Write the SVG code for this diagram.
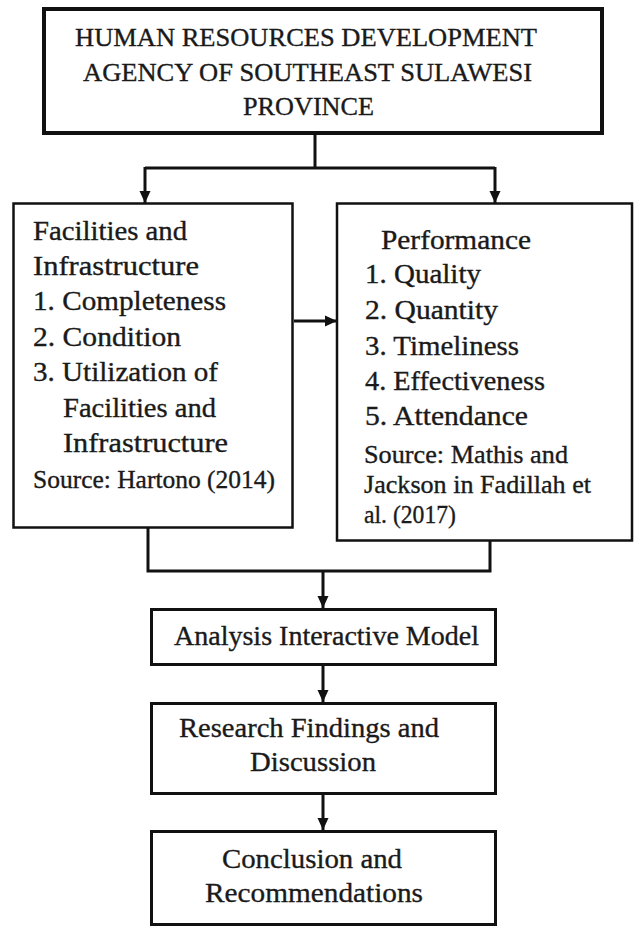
<svg xmlns="http://www.w3.org/2000/svg" width="637" height="933" viewBox="0 0 637 933">
<style>
  .box { fill: #ffffff; stroke: #111111; }
  .t { font-family: "Liberation Serif", "Times New Roman", serif; fill: #1a1a1a; stroke: #1a1a1a; stroke-width: 0.35px; }
  .t26 { font-size: 26px; }
  .t27 { font-size: 27px; }
  .t28 { font-size: 28px; }
  .conn { fill: none; stroke: #111111; stroke-width: 3; }
</style>
<defs>
  <marker id="arrow" markerUnits="userSpaceOnUse" viewBox="0 0 12 12" refX="12" refY="6" markerWidth="12" markerHeight="12" orient="auto">
    <path d="M0,0.5 L12,6 L0,11.5 z" fill="#111111"/>
  </marker>
</defs>
<rect width="637" height="933" fill="#ffffff"/>

<g id="connectors">
  <path class="conn" d="M315,135 V168"/>
  <path class="conn" d="M145,168 H495"/>
  <path class="conn" d="M145,167 V203" marker-end="url(#arrow)"/>
  <path class="conn" d="M495,167 V203" marker-end="url(#arrow)"/>
  <path class="conn" d="M294,321 H337" marker-end="url(#arrow)"/>
  <path class="conn" d="M148,528 V571 H490 V541"/>
  <path class="conn" d="M323,571 V608" marker-end="url(#arrow)"/>
  <path class="conn" d="M323,666 V702" marker-end="url(#arrow)"/>
  <path class="conn" d="M323,795 V830" marker-end="url(#arrow)"/>
</g>

<g id="node-agency">
  <rect class="box" x="44" y="9" width="558" height="124" stroke-width="4"/>
  <text class="t t26" x="75" y="46" textLength="462" lengthAdjust="spacingAndGlyphs">HUMAN RESOURCES DEVELOPMENT</text>
  <text class="t t26" x="83" y="81" textLength="449" lengthAdjust="spacingAndGlyphs">AGENCY OF SOUTHEAST SULAWESI</text>
  <text class="t t26" x="243" y="115" textLength="131" lengthAdjust="spacingAndGlyphs">PROVINCE</text>
</g>

<g id="node-facilities">
  <rect class="box" x="13.5" y="203.5" width="279" height="324" stroke-width="2.5"/>
  <text class="t t27" x="33" y="240" textLength="154" lengthAdjust="spacingAndGlyphs">Facilities and</text>
  <text class="t t27" x="33" y="275" textLength="166" lengthAdjust="spacingAndGlyphs">Infrastructure</text>
  <text class="t t27" x="33" y="310" textLength="193" lengthAdjust="spacingAndGlyphs">1. Completeness</text>
  <text class="t t27" x="33" y="346" textLength="148" lengthAdjust="spacingAndGlyphs">2. Condition</text>
  <text class="t t27" x="33" y="381" textLength="185" lengthAdjust="spacingAndGlyphs">3. Utilization of</text>
  <text class="t t27" x="63" y="417" textLength="153" lengthAdjust="spacingAndGlyphs">Facilities and</text>
  <text class="t t27" x="63" y="452" textLength="165" lengthAdjust="spacingAndGlyphs">Infrastructure</text>
  <text class="t t26" x="33" y="488" textLength="242" lengthAdjust="spacingAndGlyphs">Source: Hartono (2014)</text>
</g>

<g id="node-performance">
  <rect class="box" x="337" y="203.5" width="295" height="337" stroke-width="2.5"/>
  <text class="t t27" x="381" y="249" textLength="150" lengthAdjust="spacingAndGlyphs">Performance</text>
  <text class="t t27" x="365" y="283" textLength="116" lengthAdjust="spacingAndGlyphs">1. Quality</text>
  <text class="t t27" x="365" y="319" textLength="133" lengthAdjust="spacingAndGlyphs">2. Quantity</text>
  <text class="t t27" x="365" y="355" textLength="154" lengthAdjust="spacingAndGlyphs">3. Timeliness</text>
  <text class="t t27" x="365" y="390" textLength="180" lengthAdjust="spacingAndGlyphs">4. Effectiveness</text>
  <text class="t t27" x="365" y="425" textLength="163" lengthAdjust="spacingAndGlyphs">5. Attendance</text>
  <text class="t t26" x="364" y="463" textLength="204" lengthAdjust="spacingAndGlyphs">Source: Mathis and</text>
  <text class="t t26" x="364" y="493" textLength="227" lengthAdjust="spacingAndGlyphs">Jackson in Fadillah et</text>
  <text class="t t26" x="364" y="523" textLength="92" lengthAdjust="spacingAndGlyphs">al. (2017)</text>
</g>

<g id="node-analysis">
  <rect class="box" x="151.5" y="609.5" width="344" height="55" stroke-width="3"/>
  <text class="t t28" x="174" y="645" textLength="305" lengthAdjust="spacingAndGlyphs">Analysis Interactive Model</text>
</g>

<g id="node-findings">
  <rect class="box" x="151.5" y="703.5" width="344" height="90" stroke-width="3"/>
  <text class="t t28" x="179" y="737" textLength="260" lengthAdjust="spacingAndGlyphs">Research Findings and</text>
  <text class="t t28" x="250" y="771" textLength="126" lengthAdjust="spacingAndGlyphs">Discussion</text>
</g>

<g id="node-conclusion">
  <rect class="box" x="151.5" y="831.5" width="344" height="93" stroke-width="3"/>
  <text class="t t28" x="222" y="868" textLength="180" lengthAdjust="spacingAndGlyphs">Conclusion and</text>
  <text class="t t28" x="205" y="902" textLength="218" lengthAdjust="spacingAndGlyphs">Recommendations</text>
</g>
</svg>
